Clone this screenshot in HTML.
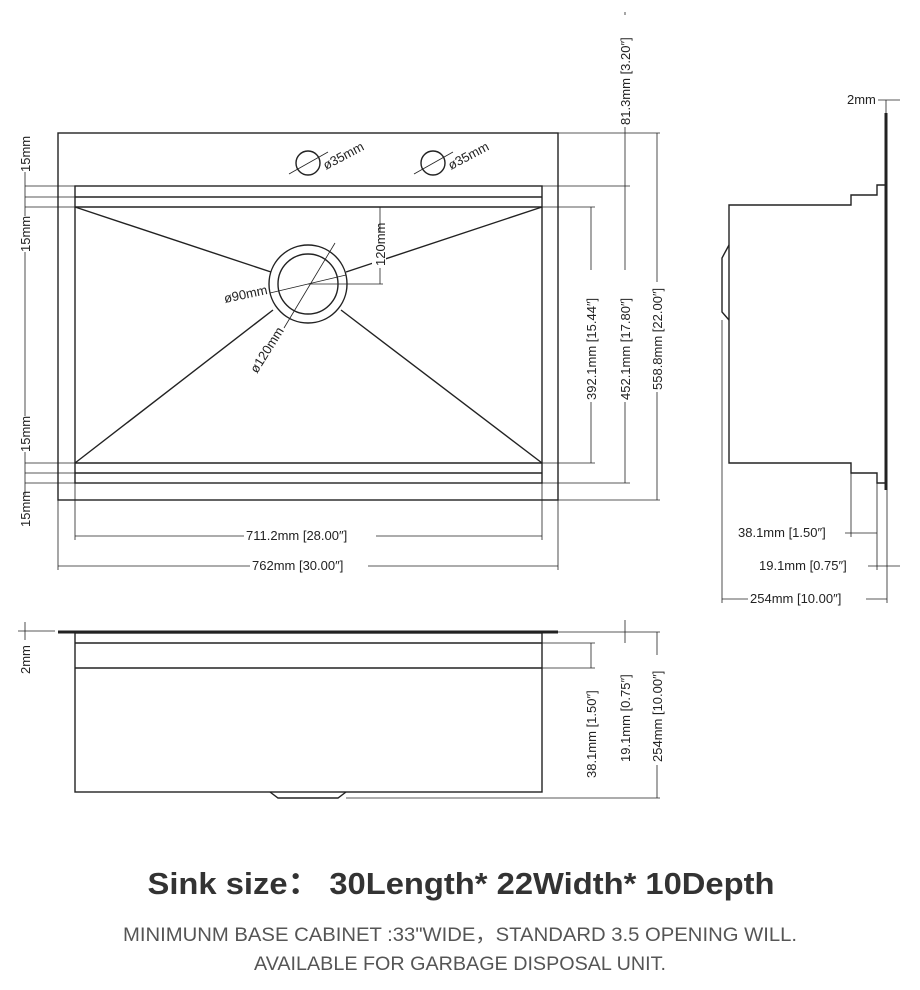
<!DOCTYPE html>
<html><head><meta charset="utf-8"><style>
html,body{margin:0;padding:0;background:#fff}
svg{display:block}
.d{font-family:"Liberation Sans",sans-serif;font-size:13px;fill:#222}
</style></head><body>
<svg width="920" height="990" viewBox="0 0 920 990" xmlns="http://www.w3.org/2000/svg">
<g stroke="#222" fill="none" stroke-width="1.4">
<rect x="58" y="133" width="500" height="367"/>
<rect x="75" y="186" width="467" height="297"/>
<line x1="75" y1="197" x2="542" y2="197"/>
<line x1="75" y1="207" x2="542" y2="207"/>
<line x1="75" y1="463" x2="542" y2="463"/>
<line x1="75" y1="473" x2="542" y2="473"/>
<line x1="75" y1="207" x2="271" y2="272"/>
<line x1="75" y1="463" x2="273" y2="310"/>
<line x1="542" y1="207" x2="346" y2="272"/>
<line x1="542" y1="463" x2="341" y2="310"/>
<circle cx="308" cy="284" r="39"/>
<circle cx="308" cy="284" r="30"/>
<circle cx="308" cy="163" r="12"/>
<circle cx="433" cy="163" r="12"/>
</g>
<g stroke="#222" fill="none" stroke-width="0.8">
<line x1="289" y1="174" x2="328" y2="152"/>
<line x1="414" y1="174" x2="453" y2="152"/>
<line x1="270" y1="293" x2="346" y2="275"/>
<line x1="335" y1="243" x2="284" y2="328"/>
<line x1="308" y1="284" x2="383" y2="284"/>
<line x1="380" y1="207" x2="380" y2="284"/>
<line x1="25" y1="140" x2="25" y2="520"/>
<line x1="25" y1="186" x2="75" y2="186"/><line x1="25" y1="197" x2="75" y2="197"/><line x1="25" y1="207" x2="75" y2="207"/>
<line x1="25" y1="463" x2="75" y2="463"/><line x1="25" y1="473" x2="75" y2="473"/><line x1="25" y1="483" x2="75" y2="483"/>
<line x1="75" y1="483" x2="75" y2="540"/>
<line x1="542" y1="186" x2="630" y2="186"/><line x1="542" y1="483" x2="630" y2="483"/>
<line x1="542" y1="207" x2="595" y2="207"/><line x1="542" y1="463" x2="595" y2="463"/>
<line x1="558" y1="133" x2="660" y2="133"/><line x1="558" y1="500" x2="660" y2="500"/>
<line x1="591" y1="207" x2="591" y2="463"/>
<line x1="625" y1="12" x2="625" y2="483"/>
<line x1="657" y1="133" x2="657" y2="500"/>
<line x1="542" y1="483" x2="542" y2="540"/>
<line x1="58" y1="500" x2="58" y2="570"/><line x1="558" y1="500" x2="558" y2="570"/>
<line x1="75" y1="536" x2="542" y2="536"/>
<line x1="58" y1="566" x2="558" y2="566"/>
</g>
<g fill="#fff" stroke="none">
<rect x="12" y="140" width="22" height="32"/><rect x="12" y="216" width="22" height="36"/>
<rect x="12" y="416" width="22" height="36"/><rect x="12" y="495" width="22" height="32"/>
<rect x="584" y="270" width="14" height="132"/><rect x="618" y="270" width="14" height="132"/><rect x="650" y="282" width="14" height="110"/>
<rect x="618" y="15" width="14" height="112"/>
<rect x="244" y="527" width="132" height="16"/><rect x="250" y="557" width="118" height="16"/>
<rect x="372" y="232" width="14" height="36"/>
</g>
<g class="d">
<text transform="translate(30,172) rotate(-90)">15mm</text>
<text transform="translate(30,252) rotate(-90)">15mm</text>
<text transform="translate(30,452) rotate(-90)">15mm</text>
<text transform="translate(30,527) rotate(-90)">15mm</text>
<text transform="translate(596,400) rotate(-90)">392.1mm  [15.44″]</text>
<text transform="translate(630,400) rotate(-90)">452.1mm  [17.80″]</text>
<text transform="translate(662,390) rotate(-90)">558.8mm  [22.00″]</text>
<text transform="translate(630,125) rotate(-90)">81.3mm  [3.20″]</text>
<text transform="translate(385,266) rotate(-90)">120mm</text>
<text x="246" y="540">711.2mm  [28.00″]</text>
<text x="252" y="570">762mm  [30.00″]</text>
<text transform="translate(326,170) rotate(-28)">ø35mm</text>
<text transform="translate(451,170) rotate(-28)">ø35mm</text>
<text transform="translate(225,303) rotate(-12)">ø90mm</text>
<text transform="translate(257,374) rotate(-58)">ø120mm</text>
</g>
<g stroke="#222" fill="none" stroke-width="1.4">
<line x1="886" y1="113" x2="886" y2="490" stroke-width="3"/>
<polyline points="885,185 877,185 877,195 851,195 851,205 729,205 729,463 851,463 851,473 877,473 877,483 885,483"/>
<polyline points="729,245 722,258 722,312 729,320"/>
</g>
<g stroke="#222" fill="none" stroke-width="0.8">
<line x1="878" y1="100" x2="900" y2="100"/><line x1="886" y1="100" x2="886" y2="113"/>
<line x1="851" y1="473" x2="851" y2="537"/><line x1="877" y1="483" x2="877" y2="570"/>
<line x1="722" y1="320" x2="722" y2="603"/><line x1="887" y1="490" x2="887" y2="603"/>
<line x1="845" y1="533" x2="877" y2="533"/>
<line x1="868" y1="566" x2="900" y2="566"/>
<line x1="722" y1="599" x2="887" y2="599"/>
</g>
<g fill="#fff"><rect x="748" y="591" width="118" height="16"/></g>
<g class="d">
<text x="847" y="104">2mm</text>
<text x="738" y="537">38.1mm  [1.50″]</text>
<text x="759" y="570">19.1mm  [0.75″]</text>
<text x="750" y="603">254mm  [10.00″]</text>
</g>
<g stroke="#222" fill="none" stroke-width="1.4">
<line x1="58" y1="632" x2="558" y2="632" stroke-width="3"/>
<rect x="75" y="633" width="467" height="159"/>
<line x1="75" y1="643" x2="542" y2="643"/>
<line x1="75" y1="668" x2="542" y2="668"/>
<polyline points="270,792 278,798 338,798 346,792"/>
</g>
<g stroke="#222" fill="none" stroke-width="0.8">
<line x1="25" y1="622" x2="25" y2="640"/><line x1="18" y1="631" x2="55" y2="631"/>
<line x1="542" y1="643" x2="595" y2="643"/><line x1="542" y1="668" x2="595" y2="668"/>
<line x1="558" y1="632" x2="660" y2="632"/><line x1="346" y1="798" x2="660" y2="798"/>
<line x1="591" y1="643" x2="591" y2="668"/>
<line x1="625" y1="620" x2="625" y2="643"/><line x1="657" y1="632" x2="657" y2="798"/>
</g>
<g fill="#fff"><rect x="650" y="655" width="14" height="110"/></g>
<g class="d">
<text transform="translate(30,674) rotate(-90)">2mm</text>
<text transform="translate(596,778) rotate(-90)">38.1mm  [1.50″]</text>
<text transform="translate(630,762) rotate(-90)">19.1mm  [0.75″]</text>
<text transform="translate(662,762) rotate(-90)">254mm  [10.00″]</text>
</g>
<text x="461" y="894" text-anchor="middle" textLength="627" lengthAdjust="spacingAndGlyphs" style="font-family:'Liberation Sans','Noto Sans CJK SC',sans-serif;font-weight:bold;font-size:31px;fill:#333">Sink size：  30Length* 22Width* 10Depth</text>
<text x="460" y="941" text-anchor="middle" textLength="674" lengthAdjust="spacingAndGlyphs" style="font-family:'Liberation Sans','Noto Sans CJK SC',sans-serif;font-size:19px;fill:#555">MINIMUNM BASE CABINET :33"WIDE，STANDARD 3.5 OPENING WILL.</text>
<text x="460" y="970" text-anchor="middle" textLength="412" lengthAdjust="spacingAndGlyphs" style="font-family:'Liberation Sans','Noto Sans CJK SC',sans-serif;font-size:19px;fill:#555">AVAILABLE FOR GARBAGE DISPOSAL UNIT.</text>
</svg>
</body></html>
